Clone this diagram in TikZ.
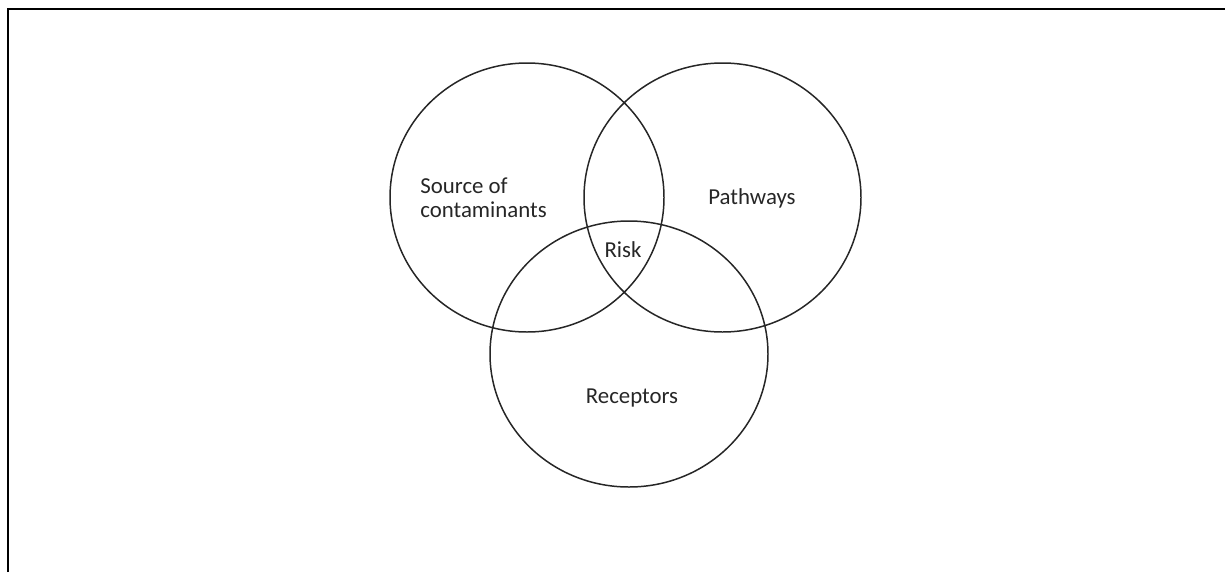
\documentclass[tikz,border=0pt]{standalone}
\usepackage{fontspec}
\setmainfont{Carlito}
\usepackage{tikz}
\tikzset{
  ring/.style={draw=black!85, line width=0.85pt},
  lab/.style={font=\fontsize{13}{13.6}\selectfont, text=black!85, inner sep=0pt}
}

\begin{document}
\begin{tikzpicture}[x=0.02cm, y=-0.02cm]
  \useasboundingbox (0,0) rectangle (1225,572);
  % frame: only left and top edges show
  \draw[line width=1.15pt] (8,572) -- (8,9) -- (1225,9);
  \coordinate (src) at (527,197.5);
  \coordinate (path) at (722.5,197.5);
  \coordinate (rec) at (629,354);
  \draw[ring] (src) ellipse [x radius=137, y radius=134.5];
  \draw[ring] (path) ellipse [x radius=138.5, y radius=134.5];
  \draw[ring] (rec) ellipse [x radius=139, y radius=133];
  \node[lab, anchor=west, align=left] (srclab) at (420,198) {Source of\\contaminants};
  \node[lab] (pathlab) at (752,198) {Pathways};
  \node[lab] (risklab) at (623,250) {Risk};
  \node[lab] (reclab) at (632,398) {Receptors};
\end{tikzpicture}
\end{document}
